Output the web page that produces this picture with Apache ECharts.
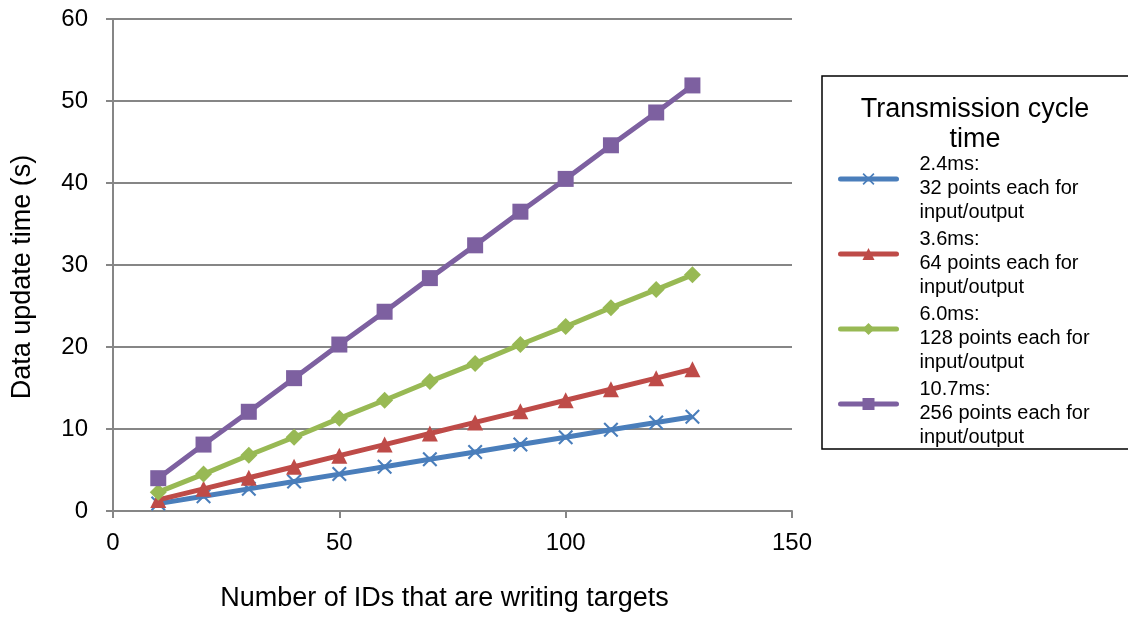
<!DOCTYPE html>
<html><head><meta charset="utf-8">
<script src="https://cdn.jsdelivr.net/npm/echarts@6/dist/echarts.min.js"></script>
<style>html,body{margin:0;padding:0;background:#fff}#c{width:1128px;height:617px}</style>
</head><body><div id="c"></div>
<script>
var xValues = [10, 20, 30, 40, 50, 60, 70, 80, 90, 100, 110, 120, 128];
var s24 = [0.9, 1.8, 2.7, 3.6, 4.5, 5.4, 6.3, 7.2, 8.1, 9.0, 9.9, 10.8, 11.5];
var s36 = [1.35, 2.7, 4.05, 5.4, 6.75, 8.1, 9.45, 10.8, 12.15, 13.5, 14.85, 16.2, 17.3];
var s60 = [2.3, 4.5, 6.8, 9.0, 11.3, 13.5, 15.8, 18.0, 20.3, 22.5, 24.8, 27.0, 28.8];
var s107 = [4.0, 8.1, 12.1, 16.2, 20.3, 24.3, 28.4, 32.4, 36.5, 40.5, 44.6, 48.6, 51.9];
var seriesNames = [
  '2.4ms:\n32 points each for\ninput/output',
  '3.6ms:\n64 points each for\ninput/output',
  '6.0ms:\n128 points each for\ninput/output',
  '10.7ms:\n256 points each for\ninput/output'
];
var legendTitle = 'Transmission cycle\ntime';
var xAxisTitle = 'Number of IDs that are writing targets';
var yAxisTitle = 'Data update time (s)';

function pairs(v){ return xValues.map(function(x,i){ return [x, v[i]]; }); }
var font = 'Liberation Sans, Arial, sans-serif';
var crossPath = 'path://M1,0L5,4L9,0L10,1L6,5L10,9L9,10L5,6L1,10L0,9L4,5L0,1Z';
var colors = ['#4A7EBB', '#BE4B48', '#98B954', '#7D60A0'];
var symbols = [crossPath, 'triangle', 'diamond', 'rect'];
var sizes = [15, 16, 17, 16];
var data = [s24, s36, s60, s107];

var chart = echarts.init(document.getElementById('c'));
chart.setOption({
  animation: false,
  grid: {left: 113, right: 336, top: 19, bottom: 106, containLabel: false, outerBoundsMode: 'none'},
  xAxis: {
    type: 'value', min: 0, max: 150, interval: 50,
    name: xAxisTitle, nameLocation: 'middle', nameGap: 74,
    nameTextStyle: {fontFamily: font, fontSize: 27, color: '#000', padding: [0, 16, 0, 0]},
    axisLine: {lineStyle: {color: '#868686', width: 2}},
    axisTick: {show: true, inside: false, length: 7, lineStyle: {color: '#868686', width: 2}},
    axisLabel: {fontFamily: font, fontSize: 24, color: '#000', margin: 20},
    splitLine: {show: false}
  },
  yAxis: {
    type: 'value', min: 0, max: 60, interval: 10,
    name: yAxisTitle, nameLocation: 'middle', nameGap: 77,
    nameTextStyle: {fontFamily: font, fontSize: 27, color: '#000', padding: [0, 24, 0, 0]},
    axisLine: {show: true, lineStyle: {color: '#868686', width: 2}},
    axisTick: {show: true, inside: false, length: 7, lineStyle: {color: '#868686', width: 2}},
    axisLabel: {fontFamily: font, fontSize: 24, color: '#000', margin: 25},
    splitLine: {show: true, lineStyle: {color: '#868686', width: 2}}
  },
  legend: {
    orient: 'vertical', left: 838, top: 134, padding: 0,
    itemWidth: 56, itemHeight: 15, itemGap: -13,
    lineStyle: {width: 5, cap: 'round'},
    formatter: function(name){
      return '{s| }\n' + name.split('\n').map(function(l){ return '{t|' + l + '}'; }).join('\n');
    },
    textStyle: {
      fontFamily: font, fontSize: 20, color: '#000',
      rich: {
        s: {fontSize: 1, lineHeight: 18, height: 18},
        t: {fontFamily: font, fontSize: 20, lineHeight: 24, color: '#000', padding: [0, 0, 0, 18]}
      }
    },
    data: seriesNames
  },
  graphic: [
    {type: 'rect', x: 822, y: 76, shape: {width: 320, height: 373},
     style: {fill: 'none', stroke: '#000', lineWidth: 1.5}, z: -1},
    {type: 'text', x: 975, y: 95, z: 10,
     style: {text: legendTitle, fontFamily: font, fontSize: 27, lineHeight: 30, fill: '#000', align: 'center', verticalAlign: 'top'}}
  ],
  series: seriesNames.map(function(n, i){
    return {
      name: n, type: 'line', data: pairs(data[i]),
      symbol: symbols[i], symbolSize: sizes[i], showAllSymbol: true,
      lineStyle: {color: colors[i], width: 5},
      itemStyle: {color: colors[i]},
      z: 2 + i
    };
  })
});
</script></body></html>
